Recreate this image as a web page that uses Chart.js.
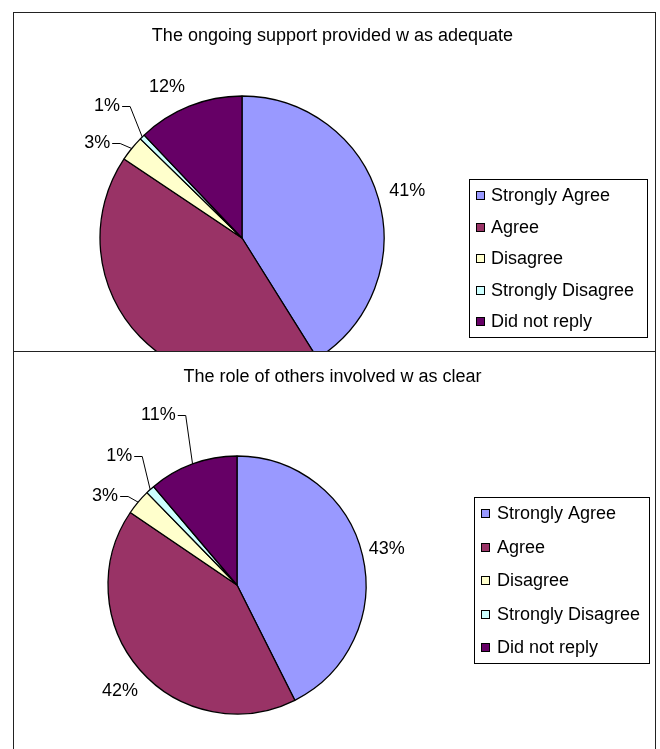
<!DOCTYPE html>
<html>
<head>
<meta charset="utf-8">
<script src="https://cdn.jsdelivr.net/npm/chart.js@4.4.1/dist/chart.umd.min.js"></script>
<style>
  body { margin: 0; background: #fff; }
  .box { position: absolute; left: 13px; width: 641px; border: 1px solid #222; overflow: hidden; background: #fff; }
  #box1 { top: 12px; height: 338px; }
  #box2 { top: 351px; height: 398px; border-bottom: none; }
  canvas { display: block; }
</style>
</head>
<body>
<div class="box" id="box1"><canvas id="supportChart" width="641" height="338"></canvas></div>
<div class="box" id="box2"><canvas id="roleChart" width="641" height="397"></canvas></div>

<script>
// dados (percentagens por resposta)
const categories = ['Strongly Agree', 'Agree', 'Disagree', 'Strongly Disagree', 'Did not reply'];
const supportValues = [41.1, 43.3, 2.9, 0.6, 12.1];
const roleValues = [42.6, 41.9, 3.2, 1.1, 11.2];
const supportTitle = 'The ongoing support provided w as adequate';
const roleTitle = 'The role of others involved w as clear';

const sliceColors = ['#9999FF', '#993366', '#FFFFCC', '#CCFFFF', '#660066'];
const FONT = '18px "Liberation Sans", Arial, sans-serif';

// título, rótulos de percentagem e legenda desenhados à mão (estilo Excel)
const pieDecor = {
  id: 'pieDecor',
  afterDatasetsDraw(chart, args, opts) {
    const ctx = chart.ctx;
    const meta = chart.getDatasetMeta(0);
    const ds = chart.data.datasets[0];
    const total = ds.data.reduce((a, b) => a + b, 0);

    ctx.save();
    ctx.font = FONT;
    ctx.fillStyle = '#000';
    ctx.strokeStyle = '#000';
    ctx.lineWidth = 1;
    ctx.textBaseline = 'middle';

    ctx.textAlign = 'center';
    ctx.fillText(opts.title, chart.width / 2 - 2, opts.titleY);

    meta.data.forEach((arc, i) => {
      const p = arc.getProps(['x', 'y', 'startAngle', 'endAngle', 'outerRadius'], true);
      const mid = (p.startAngle + p.endAngle) / 2;
      const lc = opts.labels[i];
      const a = mid + lc.nudge * Math.PI / 180;
      const d = p.outerRadius + lc.off;
      const lx = p.x + Math.cos(a) * d;
      const ly = p.y + Math.sin(a) * d;
      const text = Math.round(ds.data[i] / total * 100) + '%';
      ctx.textAlign = 'center';
      ctx.fillText(text, lx, ly);
      if (lc.leader) {
        const w = ctx.measureText(text).width;
        const sx = lx + w / 2 + 2;
        const ax = p.x + Math.cos(mid) * p.outerRadius;
        const ay = p.y + Math.sin(mid) * p.outerRadius;
        ctx.beginPath();
        ctx.moveTo(sx, Math.round(ly) + 0.5);
        ctx.lineTo(sx + 8, Math.round(ly) + 0.5);
        ctx.lineTo(ax, ay);
        ctx.stroke();
      }
    });

    // legenda com moldura
    const lg = opts.legend;
    ctx.strokeRect(lg.x + 0.5, lg.y + 0.5, lg.w, lg.h);
    ctx.textAlign = 'left';
    chart.data.labels.forEach((label, i) => {
      const cy = Math.round(lg.firstY + i * lg.step);
      ctx.fillStyle = ds.backgroundColor[i];
      ctx.fillRect(lg.markX, cy - 4, 9, 9);
      ctx.strokeRect(lg.markX + 0.5, cy - 3.5, 8, 8);
      ctx.fillStyle = '#000';
      ctx.fillText(label, lg.textX, cy + 1);
    });
    ctx.restore();
  }
};

function createPie(canvasId, values, cfg) {
  const ctx = document.getElementById(canvasId);
  return new Chart(ctx, {
    type: 'pie',
    data: {
      labels: categories,
      datasets: [{
        data: values,
        backgroundColor: sliceColors,
        borderColor: '#000',
        borderWidth: 1.3,
        clip: false
      }]
    },
    options: {
      responsive: false,
      animation: false,
      radius: cfg.radius,
      layout: { padding: cfg.padding },
      plugins: {
        legend: { display: false },
        tooltip: { enabled: false },
        title: { display: false },
        pieDecor: cfg.decor
      }
    },
    plugins: [pieDecor]
  });
}

createPie('supportChart', supportValues, {
  radius: 142,
  padding: { left: 0, right: 185, top: 112, bottom: 0 },
  decor: {
    title: supportTitle,
    titleY: 23,
    labels: [
      { off: 30, nudge: 0, leader: false },
      { off: 36, nudge: 0, leader: false },
      { off: 31, nudge: -5.9, leader: true },
      { off: 47, nudge: -0.9, leader: true },
      { off: 27, nudge: -4.6, leader: false }
    ],
    legend: { x: 455, y: 166, w: 178, h: 158, firstY: 182, step: 31.5, markX: 462, textX: 477 }
  }
});

createPie('roleChart', roleValues, {
  radius: 129,
  padding: { left: 0, right: 195, top: 69, bottom: 0 },
  decor: {
    title: roleTitle,
    titleY: 25,
    labels: [
      { off: 25, nudge: 0, leader: false },
      { off: 29, nudge: -1, leader: false },
      { off: 30, nudge: -6, leader: true },
      { off: 46, nudge: 0, leader: true },
      { off: 58, nudge: -4.7, leader: true }
    ],
    legend: { x: 460, y: 145, w: 175, h: 166, firstY: 161, step: 33.5, markX: 467, textX: 483 }
  }
});
</script>
</body>
</html>
